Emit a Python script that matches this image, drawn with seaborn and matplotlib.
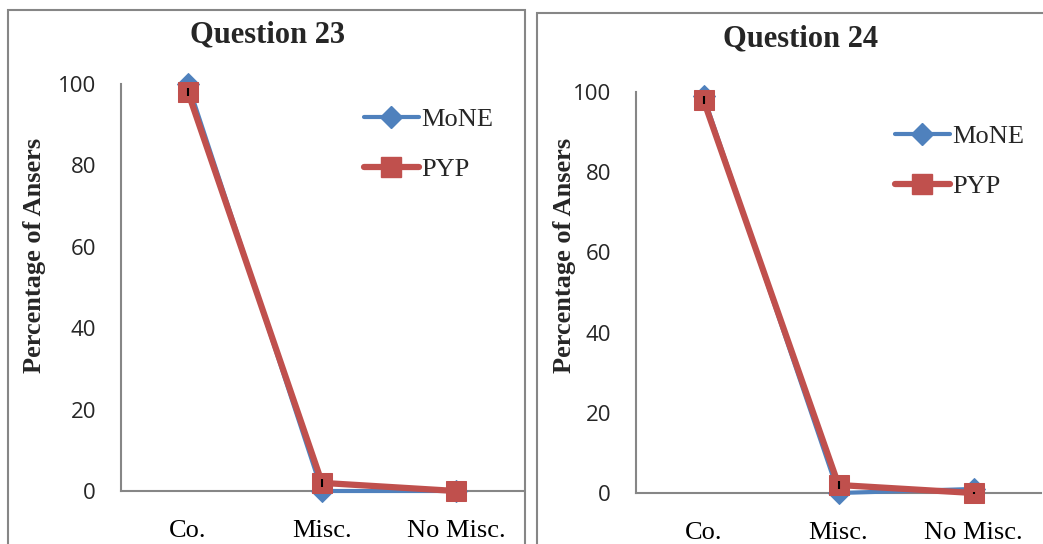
import matplotlib
matplotlib.use("Agg")
import matplotlib.pyplot as plt
import matplotlib.patches as mpatches
from matplotlib.lines import Line2D
import seaborn as sns
import pandas as pd

categories = ["Co.", "Misc.", "No Misc."]
series_names = ["MoNE", "PYP"]
q23_mone = [100, 0, 0]
q23_pyp = [98, 2, 0]
q23_pyp_err = [1, 1, 0]
q24_mone = [99, 0, 1]
q24_pyp = [98, 2, 0]
q24_pyp_err = [1, 1, 0.3]
titles = ["Question 23", "Question 24"]
y_ticks = [0, 20, 40, 60, 80, 100]

BLUE = "#4F81BD"
RED = "#C0504D"
GRAY = "#868686"

sns.set_theme(style="white")
plt.rcParams["font.family"] = ["DejaVu Sans"]

W, H = 1043, 544
fig = plt.figure(figsize=(W / 100, H / 100), dpi=100)

def fx(px):
    return px / W

def fy(py):
    return 1 - py / H

# panel borders
fig.patches.append(mpatches.Rectangle((fx(8), fy(560)), fx(525 - 8), (560 - 10) / H,
                                      transform=fig.transFigure, fill=False,
                                      edgecolor=GRAY, lw=1.5))
fig.patches.append(mpatches.Rectangle((fx(537), fy(560)), fx(1100 - 537), (560 - 13) / H,
                                      transform=fig.transFigure, fill=False,
                                      edgecolor=GRAY, lw=1.5))

panels = [
    dict(data=(q23_mone, q23_pyp, q23_pyp_err), ax=(121, 523, 84, 491),
         title_xy=(268, 35), ylab_x=35, leg=(374, 124)),
    dict(data=(q24_mone, q24_pyp, q24_pyp_err), ax=(636, 1041, 92, 493),
         title_xy=(801, 39), ylab_x=565, leg=(905, 141)),
]

for i, p in enumerate(panels):
    mone, pyp, err = p["data"]
    x0, x1, ytop, ybot = p["ax"]
    ax = fig.add_axes([fx(x0), fy(ybot), fx(x1 - x0), (ybot - ytop) / H])
    df = pd.DataFrame({
        "cat": categories * 2,
        "val": mone + pyp,
        "series": [series_names[0]] * 3 + [series_names[1]] * 3,
    })
    sns.lineplot(data=df[df.series == "MoNE"], x="cat", y="val", ax=ax,
                 color=BLUE, lw=3, marker="D", markersize=11,
                 markeredgecolor=BLUE, legend=False, sort=False, clip_on=False)
    sns.lineplot(data=df[df.series == "PYP"], x="cat", y="val", ax=ax,
                 color=RED, lw=4.5, marker="s", markersize=14.5,
                 markeredgecolor=RED, legend=False, sort=False, clip_on=False)
    eb = ax.errorbar(range(len(categories)), pyp, yerr=err, fmt="none",
                     ecolor="black", elinewidth=1.5, capsize=0, zorder=5)
    for c in eb.lines[2]:
        c.set_clip_on(False)
    ax.set_xlim(-0.5, 2.5)
    ax.set_ylim(0, 100)
    ax.set_yticks(y_ticks)
    ax.set_xticks(range(len(categories)))
    ax.set_xticklabels(categories, fontfamily="Liberation Serif", fontsize=19)
    ax.tick_params(axis="x", length=0, pad=21, colors="black")
    ax.tick_params(axis="y", length=6, width=1.2, color=GRAY, direction="out",
                   pad=12, labelsize=16)
    for lab in ax.get_yticklabels():
        lab.set_fontfamily("Open Sans")
    ax.set_xlabel("")
    ax.set_ylabel("")
    for s in ["top", "right"]:
        ax.spines[s].set_visible(False)
    for s in ["left", "bottom"]:
        ax.spines[s].set_color(GRAY)
        ax.spines[s].set_linewidth(1.5)
        ax.spines[s].set_zorder(0.5)
    ax.set_facecolor("none")
    ax.patch.set_alpha(0)

    fig.text(fx(p["title_xy"][0]), fy(p["title_xy"][1]), titles[i],
             ha="center", va="center", fontfamily="Liberation Serif",
             fontweight="bold", fontsize=22)
    fig.text(fx(p["ylab_x"]), fy(255), "Percentage of Ansers", rotation=90,
             ha="center", va="center", fontfamily="Liberation Serif",
             fontweight="bold", fontsize=19)

    handles = [
        Line2D([], [], color=BLUE, lw=3, marker="D", markersize=11),
        Line2D([], [], color=RED, lw=4.5, marker="s", markersize=14.5),
    ]
    lx, ly = p["leg"]
    ax.legend(handles, series_names, loc="upper left",
              bbox_to_anchor=(fx(lx) - 0.01, fy(ly) + 0.03),
              bbox_transform=fig.transFigure, frameon=False,
              prop={"family": "Liberation Serif", "size": 19},
              handlelength=2.1, handletextpad=0.1, labelspacing=1.0,
              borderaxespad=0, borderpad=0)

fig.savefig("out.png", dpi=100)
